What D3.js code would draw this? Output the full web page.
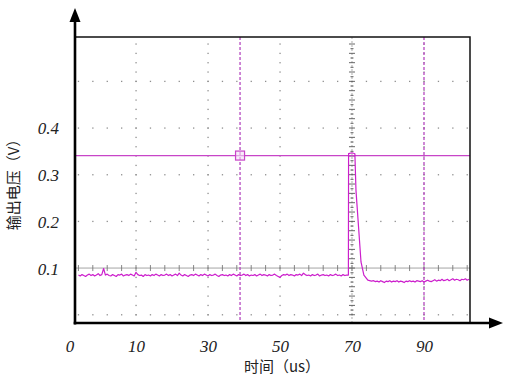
<!DOCTYPE html>
<html>
<head>
<meta charset="utf-8">
<script src="https://cdnjs.cloudflare.com/ajax/libs/d3/7.8.5/d3.min.js"></script>
<style>
  html, body { margin: 0; padding: 0; background: #fff; }
  svg { display: block; }
</style>
</head>
<body>
<svg id="chart" width="511" height="385"></svg>
<script>
// ---------------- data ----------------
// baseline before the pulse: sampled every 0.5 us from -6 us
const preStartUs = -6, preStepUs = 0.5;
const preVolts = [
  0.085,0.083,0.086,0.084,0.082,0.085,0.087,0.084,0.086,0.083,
  0.085,0.088,0.084,0.086,0.099,0.085,0.087,0.084,0.083,0.086,
  0.084,0.082,0.086,0.085,0.087,0.083,0.085,0.086,0.084,0.087,
  0.085,0.083,0.091,0.086,0.084,0.085,0.082,0.086,0.084,0.085,
  0.083,0.086,0.084,0.087,0.085,0.083,0.086,0.084,0.085,0.087,
  0.084,0.086,0.083,0.085,0.087,0.084,0.089,0.085,0.083,0.086,
  0.084,0.082,0.085,0.086,0.084,0.087,0.085,0.083,0.086,0.084,
  0.087,0.085,0.083,0.086,0.084,0.085,0.087,0.084,0.082,0.085,
  0.086,0.084,0.085,0.083,0.086,0.084,0.087,0.085,0.083,0.086,
  0.084,0.085,0.087,0.084,0.086,0.083,0.085,0.084,0.086,0.083,
  0.085,0.087,0.084,0.086,0.085,0.083,0.086,0.084,0.085,0.087,
  0.084,0.082,0.080,0.084,0.086,0.085,0.087,0.084,0.086,0.085,
  0.083,0.086,0.085,0.087,0.084,0.089,0.086,0.084,0.085,0.083,
  0.086,0.084,0.085,0.087,0.083,0.085,0.086,0.084,0.085,0.083,
  0.086,0.084,0.085,0.087,0.084,0.085,0.083,0.086,0.084,0.085
];
// the pulse
const pulseTimesUs = [69.0, 69.05, 70.0, 70.8, 71.1, 71.8, 72.5, 73.3, 74.4, 75.4];
const pulseVolts   = [0.085, 0.345, 0.347, 0.345, 0.267, 0.190, 0.113, 0.085, 0.074, 0.072];
// level after the pulse: sampled every 0.5 us from 76 us
const postStartUs = 76, postStepUs = 0.5;
const postVolts = [
  0.073,0.071,0.072,0.070,0.073,0.071,0.069,0.072,0.071,0.073,
  0.070,0.072,0.071,0.073,0.070,0.072,0.071,0.069,0.072,0.071,
  0.073,0.071,0.072,0.070,0.073,0.072,0.071,0.073,0.070,0.072,
  0.074,0.072,0.071,0.073,0.075,0.072,0.074,0.073,0.076,0.073,
  0.074,0.076,0.073,0.075,0.077,0.074,0.076,0.075,0.073,0.076,
  0.075,0.077,0.074,0.076
];
const xTickValues = [-8.5, 10, 30, 50, 70, 90];
const xTickLabels = ["0", "10", "30", "50", "70", "90"];
const yTickValues = [0.1, 0.2, 0.3, 0.4];
const yTickLabels = ["0.1", "0.2", "0.3", "0.4"];
const gridTimes = [10, 30, 50, 90];         // dotted major vertical lines
const gridVolts = [0.0, 0.2, 0.3, 0.4, 0.5]; // dotted major horizontal lines
const centerTime = 70;
const centerVolt = 0.1;
const cursorVolt = 0.341;
const cursorTimes = [38.9, 90];
const xTitle = "时间（us）";
const yTitle = "输出电压（V）";

// ---------------- scales ----------------
const L = 76, R = 470, T = 37, B = 323;
const x = d3.scaleLinear().domain([-6.67, 102.78]).range([L, R]);
const y = d3.scaleLinear().domain([-0.0177, 0.595]).range([B, T]);

const svg = d3.select("#chart");
const gridCol = "#8f8f8f";
const cursorCol = "#c845c8";
const traceCol = "#cc1fcc";

// ---------------- grid dots ----------------
const g = svg.append("g");
const dotTimes = d3.range(-6, 103, 4);
const dotVolts = d3.range(0, 0.59, 0.02);
gridVolts.forEach(v => {
  g.selectAll(null).data(dotTimes).enter().append("rect")
    .attr("x", d => x(d) - 0.6).attr("y", y(v) - 0.6)
    .attr("width", 1.3).attr("height", 1.3).attr("fill", gridCol);
});
gridTimes.forEach(t => {
  g.selectAll(null).data(dotVolts.filter(v => y(v) > T + 2 && y(v) < B - 2)).enter().append("rect")
    .attr("x", x(t) - 0.6).attr("y", d => y(d) - 0.6)
    .attr("width", 1.3).attr("height", 1.3).attr("fill", gridCol);
});

// center horizontal line with ticks
g.append("line").attr("x1", L).attr("x2", R).attr("y1", y(centerVolt)).attr("y2", y(centerVolt))
  .attr("stroke", "#9a9a9a").attr("stroke-width", 0.9);
g.selectAll(null).data(dotTimes).enter().append("line")
  .attr("x1", d => x(d)).attr("x2", d => x(d))
  .attr("y1", y(centerVolt) - 3).attr("y2", y(centerVolt) + 3)
  .attr("stroke", "#777").attr("stroke-width", 0.9);

// center vertical line with ticks
g.append("line").attr("x1", x(centerTime)).attr("x2", x(centerTime)).attr("y1", T).attr("y2", B)
  .attr("stroke", "#999").attr("stroke-width", 0.8).attr("stroke-dasharray", "2,2");
const vt = d3.range(0, 0.59, 0.01).filter(v => y(v) > T + 2 && y(v) < B - 2);
g.selectAll(null).data(vt).enter().append("line")
  .attr("x1", (d, i) => x(centerTime) - (i % 2 ? 1.5 : 3))
  .attr("x2", (d, i) => x(centerTime) + (i % 2 ? 1.5 : 3))
  .attr("y1", d => y(d)).attr("y2", d => y(d))
  .attr("stroke", "#555").attr("stroke-width", 0.9);

// ---------------- cursors ----------------
svg.append("line").attr("x1", L).attr("x2", R).attr("y1", y(cursorVolt)).attr("y2", y(cursorVolt))
  .attr("stroke", cursorCol).attr("stroke-width", 1.3);
svg.selectAll(null).data(cursorTimes).enter().append("line")
  .attr("x1", d => x(d)).attr("x2", d => x(d)).attr("y1", T).attr("y2", B)
  .attr("stroke", "#b548c0").attr("stroke-width", 1.3).attr("stroke-dasharray", "3,2");
svg.append("rect")
  .attr("x", x(cursorTimes[0]) - 4.5).attr("y", y(cursorVolt) - 4.5)
  .attr("width", 9).attr("height", 9)
  .attr("fill", "#f3e0f5").attr("fill-opacity", 0.6)
  .attr("stroke", cursorCol).attr("stroke-width", 1.2);

// ---------------- trace ----------------
const pts = []
  .concat(preVolts.map((v, i) => [preStartUs + i * preStepUs, v]))
  .concat(pulseTimesUs.map((t, i) => [t, pulseVolts[i]]))
  .concat(postVolts.map((v, i) => [postStartUs + i * postStepUs, v]));
svg.append("path").datum(pts)
  .attr("d", d3.line().x(d => x(d[0])).y(d => y(d[1])))
  .attr("fill", "none").attr("stroke", traceCol).attr("stroke-width", 1.2)
  .attr("stroke-linejoin", "round");

// ---------------- frame & axes ----------------
svg.append("path").attr("d", `M${L},${T}H${R}V${B}`)
  .attr("fill", "none").attr("stroke", "#111").attr("stroke-width", 1.5);
svg.append("line").attr("x1", L - 1).attr("x2", L - 1).attr("y1", B + 1.5).attr("y2", 20)
  .attr("stroke", "#000").attr("stroke-width", 2.6);
svg.append("path").attr("d", `M${L - 1},8 L${L - 6.5},22 L${L + 4.5},22 Z`).attr("fill", "#000");
svg.append("line").attr("x1", L - 2.3).attr("x2", 492).attr("y1", B).attr("y2", B)
  .attr("stroke", "#000").attr("stroke-width", 2.6);
svg.append("path").attr("d", `M503,${B} L489,${B - 5.5} L489,${B + 5.5} Z`).attr("fill", "#000");

// tick labels via d3 axes
const serif = "'Liberation Serif', 'Times New Roman', 'DejaVu Serif', serif";
const xAxis = d3.axisBottom(x).tickValues(xTickValues)
  .tickFormat((d, i) => xTickLabels[i]).tickSize(0).tickPadding(0);
const xa = svg.append("g").attr("transform", `translate(0,${B})`).call(xAxis)
  .attr("font-family", serif).attr("font-size", 17);
xa.select(".domain").remove();
xa.selectAll("text").attr("dy", null).attr("y", 29)
  .style("font-style", "italic").attr("fill", "#222");

const yAxis = d3.axisLeft(y).tickValues(yTickValues)
  .tickFormat((d, i) => yTickLabels[i]).tickSize(0).tickPadding(0);
const ya = svg.append("g").attr("transform", `translate(59,0)`).call(yAxis)
  .attr("font-family", serif).attr("font-size", 17);
ya.select(".domain").remove();
ya.selectAll("text").attr("dy", "0.35em").attr("x", 0)
  .style("font-style", "italic").attr("fill", "#222");

// titles
svg.append("text").attr("x", 282).attr("y", 372).attr("text-anchor", "middle")
  .style("font-family", "'Noto Sans CJK SC', sans-serif").style("font-size", "15px")
  .attr("fill", "#222").text(xTitle);
svg.append("text").attr("transform", "translate(19,181) rotate(-90)").attr("text-anchor", "middle")
  .style("font-family", "'Noto Sans CJK SC', sans-serif").style("font-size", "15px")
  .attr("fill", "#222").text(yTitle);
</script>
</body>
</html>
